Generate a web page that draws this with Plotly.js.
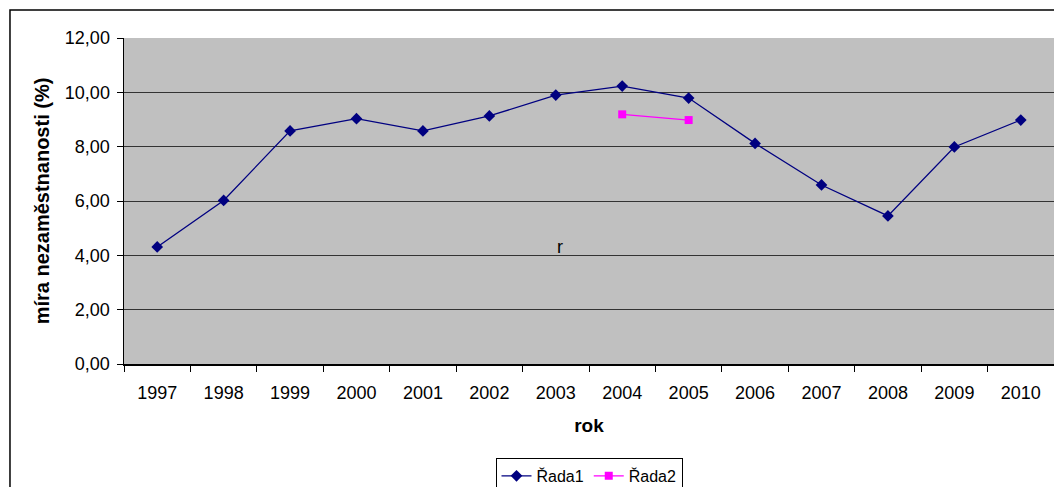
<!DOCTYPE html>
<html>
<head>
<meta charset="utf-8">
<script src="https://cdn.plot.ly/plotly-3.0.1.min.js"></script>
<style>
  html, body { margin: 0; padding: 0; background: #fff; }
  #chart { width: 1054px; height: 487px; }
</style>
</head>
<body>
<div id="chart"></div>
<script>
// Unemployment rate by year
const years = ['1997','1998','1999','2000','2001','2002','2003','2004','2005','2006','2007','2008','2009','2010'];
const rada1 = [4.31, 6.02, 8.58, 9.03, 8.58, 9.13, 9.90, 10.23, 9.79, 8.12, 6.59, 5.45, 7.99, 8.98];
const rada2Years = ['2004', '2005'];
const rada2 = [9.19, 8.98];
const yTicks = [0, 2, 4, 6, 8, 10, 12];

const font = 'Liberation Sans, Arial, sans-serif';

const traces = [
  {
    x: years, y: rada1, name: 'Řada1', type: 'scatter', mode: 'lines+markers',
    line: { color: '#000080', width: 1.3 },
    marker: { symbol: 'diamond', size: 9, color: '#000080' }
  },
  {
    x: rada2Years, y: rada2, name: 'Řada2', type: 'scatter', mode: 'lines+markers',
    line: { color: '#FF00FF', width: 1.3 },
    marker: { symbol: 'square', size: 8, color: '#FF00FF' }
  }
];

const layout = {
  width: 1054, height: 487,
  margin: { l: 124, r: 0, t: 38, b: 123, autoexpand: false },
  paper_bgcolor: '#ffffff',
  plot_bgcolor: '#C0C0C0',
  separators: ', ',
  font: { family: font, size: 18, color: '#000' },
  showlegend: true,
  legend: {
    orientation: 'h', x: 0.5, xanchor: 'center', y: -0.288, yanchor: 'top',
    bordercolor: '#000', borderwidth: 1, bgcolor: '#fff',
    font: { family: font, size: 16, color: '#000' },
    itemwidth: 30, tracegroupgap: 0
  },
  xaxis: {
    type: 'category', range: [-0.5, 13.5],
    showgrid: false, zeroline: false,
    showline: true, linecolor: '#000', linewidth: 1.5,
    ticks: 'outside', tickson: 'boundaries', ticklen: 6, tickcolor: '#000',
    ticklabelstandoff: 12,
    tickfont: { family: font, size: 18 },
    title: { text: 'rok', font: { family: font, size: 19, weight: 'bold' }, standoff: 16 },
    fixedrange: true
  },
  yaxis: {
    range: [0, 12], tickvals: yTicks, tickformat: '.2f',
    showgrid: true, gridcolor: '#333333', gridwidth: 1,
    zeroline: false,
    showline: true, linecolor: '#000', linewidth: 1.5,
    ticks: 'outside', ticklen: 6, tickcolor: '#000',
    ticklabelstandoff: 3,
    tickfont: { family: font, size: 18 },
    title: { text: 'míra nezaměstnanosti (%)', font: { family: font, size: 20, weight: 'bold' }, standoff: 10 },
    fixedrange: true
  },
  annotations: [
    {
      x: years.indexOf('2003'), y: yTicks[2], xref: 'x', yref: 'y', text: 'r', showarrow: false,
      xanchor: 'center', yanchor: 'bottom', xshift: 4, yshift: -4,
      font: { family: font, size: 18, color: '#000' }
    }
  ],
  shapes: [
    {
      type: 'rect', xref: 'paper', yref: 'paper',
      x0: -0.1226, x1: 1.2, y0: -0.5, y1: 1.0859,
      line: { color: '#000', width: 1.5 }, fillcolor: 'rgba(0,0,0,0)', layer: 'below'
    }
  ]
};

Plotly.newPlot('chart', traces, layout, { displayModeBar: false, staticPlot: true });
</script>
</body>
</html>
